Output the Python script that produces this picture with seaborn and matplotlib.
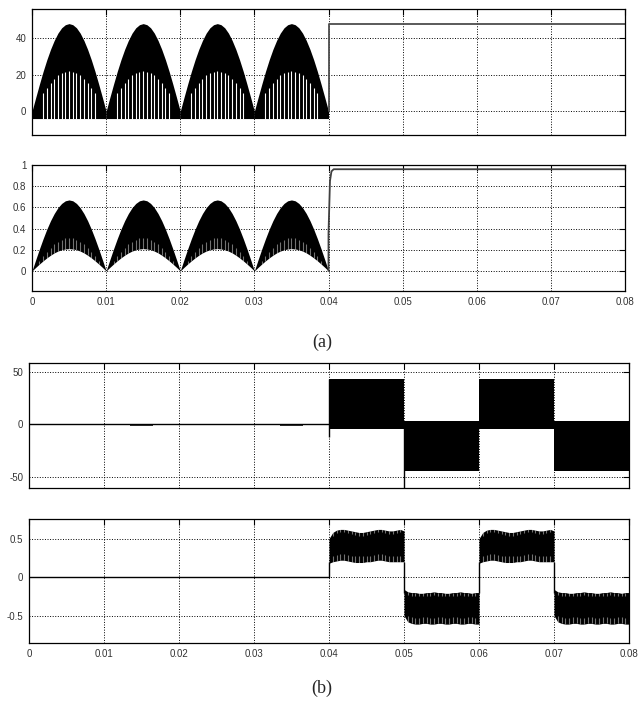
import matplotlib
matplotlib.use("Agg")
import numpy as np
import matplotlib.pyplot as plt
import seaborn as sns

# time grid of one rectified hump (0.5 ms steps), repeated for each hump
hump_t = [0.0, 0.0005, 0.001, 0.0015, 0.002, 0.0025, 0.003, 0.0035, 0.004, 0.0045, 0.005,
          0.0055, 0.006, 0.0065, 0.007, 0.0075, 0.008, 0.0085, 0.009, 0.0095, 0.01]
hump_starts = [0.0, 0.01, 0.02, 0.03]

# (a) upper: chopped dc-link voltage
va_upper = [0, 7.5, 14.8, 21.8, 28.2, 33.9, 38.8, 42.8, 45.7, 47.4, 48,
            47.4, 45.7, 42.8, 38.8, 33.9, 28.2, 21.8, 14.8, 7.5, 0]
va_gap = [0, 3.4, 6.8, 10.0, 12.9, 15.6, 17.8, 19.6, 20.9, 21.7, 22,
          21.7, 20.9, 19.6, 17.8, 15.6, 12.9, 10.0, 6.8, 3.4, 0]
va_floor = -4.0
va_after_t = [0.04, 0.04, 0.08]
va_after_v = [0.0, 48.0, 48.0]

# (a) lower: current
ia_upper = [0, 0.105, 0.207, 0.304, 0.394, 0.474, 0.542, 0.597, 0.637, 0.662, 0.67,
            0.662, 0.637, 0.597, 0.542, 0.474, 0.394, 0.304, 0.207, 0.105, 0]
ia_lower = [0, 0.033, 0.065, 0.095, 0.123, 0.148, 0.170, 0.187, 0.200, 0.207, 0.21,
            0.207, 0.200, 0.187, 0.170, 0.148, 0.123, 0.095, 0.065, 0.033, 0]
ia_gap = [0, 0.048, 0.096, 0.141, 0.182, 0.219, 0.251, 0.276, 0.295, 0.306, 0.31,
          0.306, 0.295, 0.276, 0.251, 0.219, 0.182, 0.141, 0.096, 0.048, 0]
ia_after_t = [0.04, 0.04, 0.0402, 0.0404, 0.0407, 0.08]
ia_after_v = [0.0, 0.35, 0.85, 0.94, 0.96, 0.96]

# (b) upper: inverter output voltage
vb_edges = [0.04, 0.05, 0.06, 0.07, 0.08]
vb_high = [44, 3, 44, 3]
vb_low = [-4, -45, -4, -45]
vb_spike_t = [0.04, 0.05]
vb_spike_low = [-12, -61]
vb_spike_high = [44, 3]
vb_blip_t0 = [0.0135, 0.0335]
vb_blip_t1 = [0.0165, 0.0365]

# (b) lower: output current, half-cycle shapes on the hump grid
ib_pos_upper = [0.50, 0.58, 0.61, 0.62, 0.62, 0.61, 0.60, 0.59, 0.58, 0.58, 0.59,
                0.60, 0.61, 0.62, 0.62, 0.61, 0.60, 0.60, 0.61, 0.62, 0.60]
ib_pos_lower = [0.18, 0.20, 0.21, 0.22, 0.22, 0.21, 0.20, 0.19, 0.19, 0.19, 0.20,
                0.20, 0.21, 0.22, 0.22, 0.21, 0.20, 0.20, 0.20, 0.20, 0.20]
ib_neg_upper = [-0.16, -0.19, -0.20, -0.20, -0.21, -0.21, -0.20, -0.20, -0.19, -0.20, -0.20,
                -0.21, -0.21, -0.20, -0.20, -0.19, -0.20, -0.20, -0.21, -0.20, -0.20]
ib_neg_lower = [-0.50, -0.58, -0.60, -0.61, -0.61, -0.60, -0.60, -0.61, -0.61, -0.60, -0.60,
                -0.61, -0.61, -0.60, -0.60, -0.61, -0.61, -0.60, -0.60, -0.61, -0.61]
ib_half_starts = [0.04, 0.05, 0.06, 0.07]
ib_half_sign = ["pos", "neg", "pos", "neg"]
ib_edge_from = [0.0, 0.2, -0.2, 0.2]
ib_edge_to = [0.2, -0.2, 0.2, -0.2]
ib_gap_low = 0.08
ib_gap_high = 0.04

xticks = [0, 0.01, 0.02, 0.03, 0.04, 0.05, 0.06, 0.07, 0.08]
xtick_labels = ["0", "0.01", "0.02", "0.03", "0.04", "0.05", "0.06", "0.07", "0.08"]

sns.set_theme(style="white")
plt.rcParams["font.family"] = ["Liberation Sans", "DejaVu Sans"]

fig = plt.figure(figsize=(6.44, 7.01), dpi=100)
W, H = 644, 701


def make_axes(left, right, top, bottom):
    return fig.add_axes([left / W, 1 - bottom / H, (right - left) / W, (bottom - top) / H])


ax1 = make_axes(32, 625, 9, 135)
ax2 = make_axes(32, 625, 165, 291)
ax3 = make_axes(29, 629, 363, 488)
ax4 = make_axes(29, 629, 519, 643)

ht = np.array(hump_t)
stripe_idx = list(range(3, 18))

# panel 1
for s in hump_starts:
    ax1.fill_between(ht + s, va_floor, va_upper, color="black", lw=0)
    ax1.vlines(ht[stripe_idx] + s, va_floor, np.array(va_gap)[stripe_idx], color="white", lw=0.8)
sns.lineplot(x=va_after_t, y=va_after_v, ax=ax1, estimator=None, sort=False, color="0.3", lw=1.3)

# panel 2
for s in hump_starts:
    ax2.fill_between(ht + s, ia_lower, ia_upper, color="black", lw=0)
    ax2.vlines(ht[2:19] + s, np.array(ia_lower)[2:19], np.array(ia_gap)[2:19],
               color="white", lw=0.8, alpha=0.45)
sns.lineplot(x=ia_after_t, y=ia_after_v, ax=ax2, estimator=None, sort=False, color="0.25", lw=1.3)

# panel 3
sns.lineplot(x=[0, 0.04], y=[0, 0], ax=ax3, estimator=None, sort=False, color="black", lw=1)
for t0, t1 in zip(vb_blip_t0, vb_blip_t1):
    ax3.fill_between([t0, t1], -1.5, 0, color="0.2", lw=0)
for i in range(len(vb_high)):
    ax3.fill_between([vb_edges[i], vb_edges[i + 1]], vb_low[i], vb_high[i], color="black", lw=0)
ax3.vlines(vb_spike_t, vb_spike_low, vb_spike_high, color="black", lw=1)

# panel 4
sns.lineplot(x=[0, 0.04], y=[0, 0], ax=ax4, estimator=None, sort=False, color="black", lw=1)
for s, sign in zip(ib_half_starts, ib_half_sign):
    up = np.array(ib_pos_upper if sign == "pos" else ib_neg_upper)
    lo = np.array(ib_pos_lower if sign == "pos" else ib_neg_lower)
    ax4.fill_between(ht + s, lo, up, color="black", lw=0)
    ax4.vlines(ht[1:20] + s, lo[1:20], lo[1:20] + ib_gap_low, color="white", lw=0.8, alpha=0.45)
    ax4.vlines(ht[1:20] + s, up[1:20] - ib_gap_high, up[1:20], color="white", lw=0.8, alpha=0.45)
ax4.vlines(ib_half_starts, ib_edge_from, ib_edge_to, color="black", lw=1)

limits = [(-13, 56), (-0.19, 1.0), (-61, 59), (-0.855, 0.755)]
yticks = [[0, 20, 40], [0, 0.2, 0.4, 0.6, 0.8, 1],
          [-50, 0, 50], [-0.5, 0, 0.5]]
ylabels = [["0", "20", "40"], ["0", "0.2", "0.4", "0.6", "0.8", "1"],
           ["-50", "0", "50"], ["-0.5", "0", "0.5"]]

for i, ax in enumerate([ax1, ax2, ax3, ax4]):
    ax.set_xlim(0, 0.08)
    ax.set_ylim(*limits[i])
    ax.set_xticks(xticks)
    ax.set_yticks(yticks[i])
    ax.set_yticklabels(ylabels[i])
    if i in (1, 3):
        ax.set_xticklabels(xtick_labels)
    else:
        ax.set_xticklabels([])
    ax.set_xlabel("")
    ax.set_ylabel("")
    ax.grid(True, color="black", linestyle=":", lw=0.7)
    ax.set_axisbelow(True)
    ax.tick_params(direction="in", length=4, width=0.8, top=True, right=True,
                   labelsize=7, labelcolor="0.2", colors="black", pad=4)
    ax.tick_params(axis="x", labelcolor="0.2")
    for sp in ax.spines.values():
        sp.set_visible(True)
        sp.set_color("black")
        sp.set_linewidth(0.9)

fig.text(0.5, 1 - 342 / H, "(a)", ha="center", va="center", fontsize=13,
         family=["Liberation Serif", "DejaVu Serif"])
fig.text(0.5, 1 - 688 / H, "(b)", ha="center", va="center", fontsize=13,
         family=["Liberation Serif", "DejaVu Serif"])

fig.savefig("out.png", dpi=100, facecolor="white")
